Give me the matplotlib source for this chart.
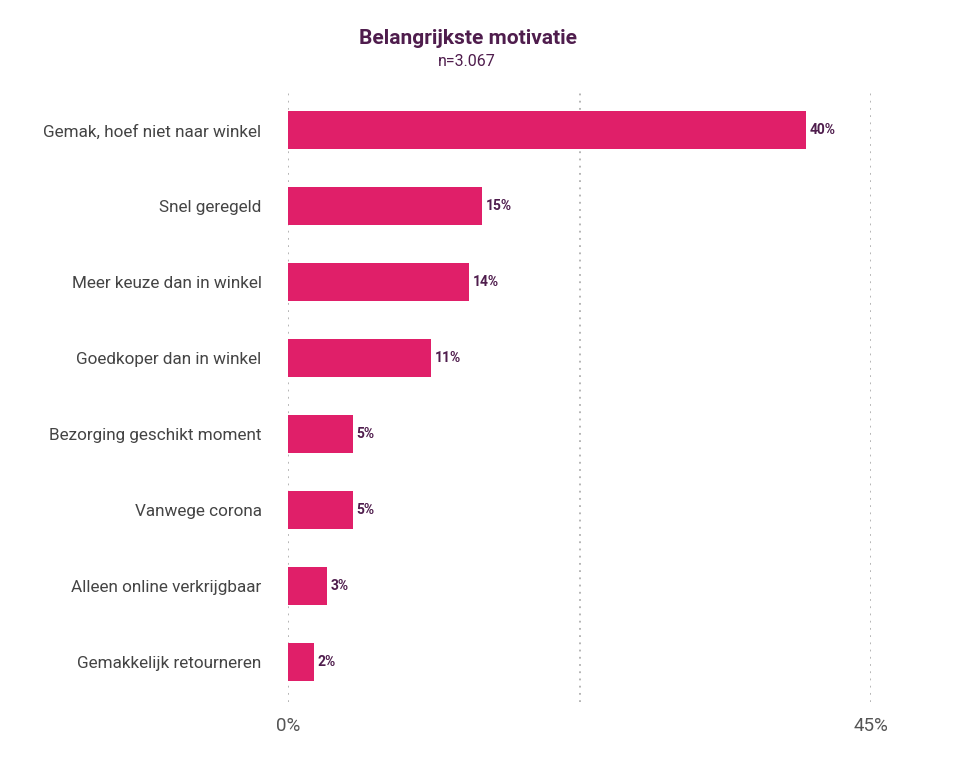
import matplotlib.pyplot as plt
import numpy as np

plt.rcParams["font.family"] = ["Roboto", "DejaVu Sans"]

categories = [
    "Gemak, hoef niet naar winkel",
    "Snel geregeld",
    "Meer keuze dan in winkel",
    "Goedkoper dan in winkel",
    "Bezorging geschikt moment",
    "Vanwege corona",
    "Alleen online verkrijgbaar",
    "Gemakkelijk retourneren",
]
values = [40, 15, 14, 11, 5, 5, 3, 2]
value_labels = ["40%", "15%", "14%", "11%", "5%", "5%", "3%", "2%"]
grid_positions = [0, 22.5, 45]
tick_positions = [0, 45]
tick_labels = ["0%", "45%"]

bar_color = "#e01f69"
label_color = "#4f1d4d"
text_gray = "#444444"

fig = plt.figure(figsize=(9.62, 7.67), dpi=100)
ax = fig.add_axes([288 / 962, 1 - 702 / 767, 583 / 962, 612 / 767])

y = np.arange(len(categories))
ax.barh(y, values, height=0.5, color=bar_color, zorder=3)

for yi, v, lab in zip(y, values, value_labels):
    ax.text(v + 0.3, yi, lab, va="center", ha="left", fontsize=10,
            fontweight="bold", color=label_color)

for gx in grid_positions:
    ax.axvline(gx, color="#b0b0b0", linestyle=(0, (1, 3)), linewidth=1.3, zorder=1)

ax.set_xlim(0, 45)
ax.set_ylim(len(categories) - 0.47, -0.53)
ax.set_yticks(y)
ax.set_yticklabels(categories, fontsize=12.3, color=text_gray)
ax.set_xticks(tick_positions)
ax.set_xticklabels(tick_labels, fontsize=13.5, color="#555555")
ax.tick_params(axis="y", length=0, pad=19)
ax.tick_params(axis="x", length=0, pad=11)
for s in ax.spines.values():
    s.set_visible(False)

fig.text(468 / 962, 1 - 38 / 767, "Belangrijkste motivatie", ha="center", va="center",
         fontsize=15, fontweight="bold", color=label_color)
fig.text(467 / 962, 1 - 62 / 767, "n=3.067", ha="center", va="center",
         fontsize=11.5, color=label_color)

fig.savefig("out.png", dpi=100, facecolor="white")
